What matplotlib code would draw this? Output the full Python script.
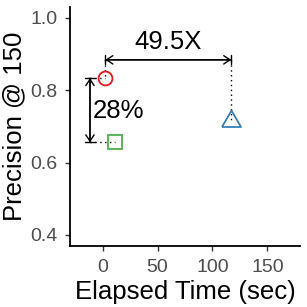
import numpy as np
import matplotlib
matplotlib.use('Agg')
import matplotlib.pyplot as plt

plt.rcParams['font.family'] = ['Liberation Sans', 'DejaVu Sans']

# Datos
elapsed = [2.4, 11.4, 117.1]
precision = [0.8335, 0.656, 0.7156]
colores = ['#E41A1C', '#4DAF4A', '#377EB8']

# Anotaciones
flecha_y = 0.884          # altura de la flecha horizontal
flecha_x = -11.6          # posicion de la flecha vertical
texto_speedup = '49.5X'
texto_mejora = '28%'
pos_speedup = (59.5, 0.9325)
pos_mejora = (14.6, 0.7416)

x_ticks = [0, 50, 100, 150]
y_ticks = [0.4, 0.6, 0.8, 1.0]

# Triangulo equilatero centrado en su centroide
triangulo = [(-0.866, -0.5), (0.866, -0.5), (0, 1.0), (-0.866, -0.5)]

fig = plt.figure(figsize=(3.07, 3.07), dpi=100)
ax = fig.add_axes([0.228, 0.1987, 0.749, 0.7785])

ax.plot(elapsed[0], precision[0], marker='o', ms=10, mfc='none', mec=colores[0], mew=1.3, ls='none', zorder=3)
ax.plot(elapsed[1], precision[1], marker='s', ms=9.7, mfc='none', mec=colores[1], mew=1.3, ls='none', zorder=3)
ax.plot(elapsed[2], precision[2], marker=triangulo, ms=15.8, mfc='none', mec=colores[2], mew=1.3, ls='none', zorder=3)

punteado = dict(color='black', lw=1.0, ls=(0, (1, 2.5)))
ax.plot([elapsed[0], elapsed[0]], [flecha_y, precision[0]], **punteado)
ax.plot([elapsed[2], elapsed[2]], [flecha_y, precision[2]], **punteado)
ax.plot([flecha_x, elapsed[0]], [precision[0], precision[0]], **punteado)
ax.plot([flecha_x, elapsed[1]], [precision[1], precision[1]], **punteado)

def flecha(p0, p1):
    for estilo in ['<->,head_length=0.45,head_width=0.3', '|-|,widthA=0.33,widthB=0.33']:
        ax.annotate('', xy=p1, xytext=p0,
                    arrowprops=dict(arrowstyle=estilo, color='black', lw=1.0,
                                    shrinkA=0, shrinkB=0, mutation_scale=10))

flecha((elapsed[0], flecha_y), (elapsed[2], flecha_y))
flecha((flecha_x, precision[0]), (flecha_x, precision[1]))

ax.text(pos_speedup[0], pos_speedup[1], texto_speedup, fontsize=18.5, ha='center', va='center')
ax.text(pos_mejora[0], pos_mejora[1], texto_mejora, fontsize=18.5, ha='center', va='center')

ax.set_xlim(-29.8, 179.7)
ax.set_ylim(0.3696, 1.03)
ax.set_xticks(x_ticks)
ax.set_yticks(y_ticks)
ax.set_yticklabels(['%.1f' % v for v in y_ticks])
ax.tick_params(labelsize=14, labelcolor='#4D4D4D', color='#333333', length=3.6, width=1.0, pad=5.5)
for lado in ['top', 'right']:
    ax.spines[lado].set_visible(False)
for lado in ['left', 'bottom']:
    ax.spines[lado].set_linewidth(1.3)

ax.set_xlabel('Elapsed Time (sec)', fontsize=18.5, labelpad=3)
ax.set_ylabel('Precision @ 150', fontsize=18.5, labelpad=3)

fig.savefig('out.png', dpi=100)
plt.close()
